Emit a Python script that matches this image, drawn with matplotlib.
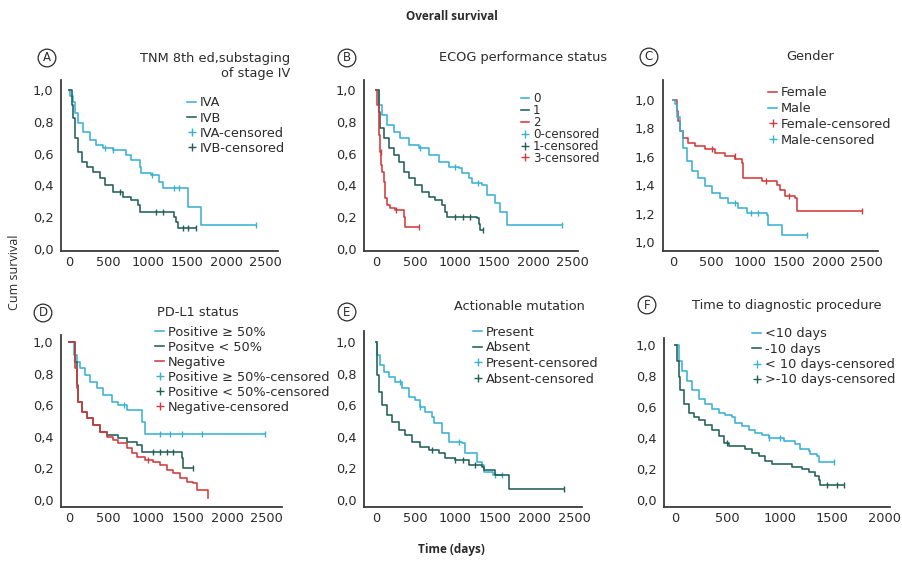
import numpy as np
import matplotlib
matplotlib.use("Agg")
import matplotlib.pyplot as plt
from matplotlib.lines import Line2D

plt.rcParams['font.family'] = ['DejaVu Sans']

CYAN = "#3ab1d3"
DARK = "#225f56"
RED = "#d2393b"
TXT = "#2b2b2b"
FS = 9.3

# ---- data (days, cumulative survival) ----
# A: TNM 8th ed, substaging of stage IV
a_iva_t = [0, 13, 46, 76, 118, 181, 265, 349, 433, 560, 728, 792, 897, 918, 1044, 1149, 1191, 1507, 1676, 2371]
a_iva_s = [1.0, 0.96, 0.926, 0.853, 0.79, 0.738, 0.686, 0.654, 0.637, 0.623, 0.591, 0.56, 0.518, 0.476, 0.465, 0.423, 0.382, 0.266, 0.151, 0.151]
a_iva_cens = [460, 560, 1050, 1330, 1400, 2371]
a_ivb_t = [0, 34, 55, 76, 118, 160, 223, 307, 391, 455, 560, 686, 792, 875, 897, 1339, 1360, 1381, 1613]
a_ivb_s = [1.0, 0.906, 0.822, 0.696, 0.612, 0.549, 0.518, 0.486, 0.445, 0.403, 0.36, 0.329, 0.308, 0.277, 0.235, 0.203, 0.172, 0.13, 0.13]
a_ivb_cens = [650, 1100, 1200, 1450, 1510, 1613]

# B: ECOG performance status
b_0_t = [0, 34, 76, 140, 224, 309, 415, 541, 668, 795, 922, 1049, 1091, 1176, 1218, 1345, 1409, 1514, 1577, 1662, 2360]
b_0_s = [1.0, 0.906, 0.843, 0.78, 0.738, 0.696, 0.654, 0.633, 0.591, 0.549, 0.518, 0.507, 0.476, 0.445, 0.413, 0.403, 0.34, 0.287, 0.235, 0.151, 0.151]
b_0_cens = [560, 1000, 1300, 2360]
b_1_t = [0, 34, 55, 97, 161, 224, 288, 351, 415, 499, 584, 668, 753, 837, 880, 901, 1282, 1303, 1324, 1354]
b_1_s = [1.0, 0.864, 0.759, 0.696, 0.633, 0.591, 0.549, 0.486, 0.445, 0.403, 0.36, 0.329, 0.308, 0.277, 0.235, 0.203, 0.193, 0.16, 0.12, 0.12]
b_1_cens = [1000, 1100, 1200, 1354]
b_2_t = [0, 13, 34, 42, 55, 68, 76, 97, 119, 140, 182, 245, 351, 372, 541]
b_2_s = [1.0, 0.906, 0.822, 0.717, 0.612, 0.528, 0.486, 0.423, 0.319, 0.277, 0.256, 0.245, 0.203, 0.14, 0.14]
b_2_cens = [60, 250, 541]

# C: Gender
c_fem_t = [0, 48, 69, 91, 134, 199, 284, 413, 543, 672, 801, 888, 909, 1146, 1340, 1383, 1447, 1576, 1598, 2438]
c_fem_s = [1.0, 0.924, 0.853, 0.782, 0.735, 0.70, 0.676, 0.652, 0.629, 0.605, 0.582, 0.558, 0.452, 0.428, 0.404, 0.369, 0.321, 0.31, 0.215, 0.215]
c_fem_cens = [500, 800, 1200, 1500, 2438]
c_male_t = [0, 26, 48, 91, 134, 177, 241, 328, 413, 500, 607, 715, 845, 952, 1210, 1232, 1404, 1727]
c_male_s = [1.0, 0.97, 0.877, 0.782, 0.664, 0.57, 0.499, 0.452, 0.392, 0.345, 0.31, 0.274, 0.239, 0.204, 0.191, 0.12, 0.05, 0.05]
c_male_cens = [800, 1000, 1100, 1727]
c_ticklabels = ["1,0", "1,2", "1,4", "1,6", "1,8", "1,0"]

# D: PD-L1 status
d_hi_t = [0, 63, 97, 139, 202, 266, 350, 434, 540, 624, 730, 919, 961, 2479]
d_hi_s = [1.0, 0.918, 0.875, 0.833, 0.79, 0.749, 0.707, 0.665, 0.622, 0.601, 0.57, 0.496, 0.42, 0.42]
d_hi_cens = [700, 1151, 1277, 1425, 1679, 2479]
d_lo_t = [0, 76, 97, 118, 160, 224, 308, 392, 477, 624, 730, 856, 919, 1425, 1446, 1572]
d_lo_s = [1.0, 0.875, 0.728, 0.622, 0.559, 0.517, 0.475, 0.432, 0.411, 0.39, 0.369, 0.348, 0.306, 0.264, 0.2, 0.2]
d_lo_cens = [1067, 1151, 1236, 1320, 1572]
d_neg_t = [0, 76, 97, 118, 160, 224, 308, 392, 477, 561, 624, 730, 793, 856, 961, 1067, 1151, 1236, 1320, 1404, 1489, 1572, 1615, 1762]
d_neg_s = [1.0, 0.833, 0.707, 0.622, 0.559, 0.517, 0.475, 0.432, 0.40, 0.38, 0.359, 0.327, 0.296, 0.274, 0.253, 0.243, 0.222, 0.19, 0.169, 0.137, 0.116, 0.105, 0.063, 0.01]
d_neg_cens = [1000]

# E: Actionable mutation
e_pres_t = [0, 13, 55, 97, 160, 244, 328, 412, 496, 559, 622, 706, 727, 832, 916, 1084, 1126, 1273, 1336, 1357, 1470, 1588]
e_pres_s = [1.0, 0.918, 0.854, 0.812, 0.78, 0.749, 0.707, 0.654, 0.633, 0.59, 0.559, 0.527, 0.485, 0.422, 0.369, 0.359, 0.296, 0.243, 0.222, 0.18, 0.158, 0.158]
e_pres_cens = [300, 560, 1050, 1500, 1588]
e_abs_t = [0, 8, 13, 34, 76, 139, 202, 286, 370, 454, 559, 664, 790, 874, 1000, 1168, 1336, 1357, 1504, 1672, 2365]
e_abs_s = [1.0, 0.897, 0.791, 0.686, 0.601, 0.538, 0.496, 0.443, 0.411, 0.369, 0.337, 0.316, 0.296, 0.264, 0.253, 0.222, 0.211, 0.19, 0.158, 0.07, 0.07]
e_abs_cens = [700, 1000, 1100, 1250, 2365]

# F: Time to diagnostic procedure
f_lt_t = [0, 35, 67, 115, 162, 226, 290, 354, 417, 481, 545, 576, 640, 704, 768, 831, 895, 1039, 1150, 1197, 1278, 1293, 1357, 1373, 1516]
f_lt_s = [1.0, 0.897, 0.833, 0.77, 0.707, 0.654, 0.622, 0.59, 0.559, 0.549, 0.538, 0.496, 0.475, 0.454, 0.432, 0.422, 0.401, 0.38, 0.359, 0.327, 0.316, 0.296, 0.285, 0.243, 0.243]
f_lt_cens = [900, 1000, 1516]
f_ge_t = [0, 19, 35, 51, 83, 131, 178, 226, 290, 354, 417, 465, 513, 672, 736, 800, 863, 927, 1118, 1214, 1278, 1341, 1373, 1389, 1612]
f_ge_s = [1.0, 0.897, 0.791, 0.707, 0.622, 0.559, 0.538, 0.517, 0.485, 0.454, 0.411, 0.369, 0.348, 0.327, 0.306, 0.285, 0.253, 0.232, 0.211, 0.2, 0.179, 0.158, 0.127, 0.095, 0.095]
f_ge_cens = [500, 1450, 1550, 1612]


def fig_px(x, y):
    return x / 903.0, 1 - y / 563.0


def km(ax, t, s, cens, color):
    ax.step(t, s, where='post', color=color, lw=1.15)
    idx = np.searchsorted(t, cens, side='right') - 1
    ax.plot(cens, np.array(s)[idx], ls='none', marker='|', ms=4, mew=1, color=color)


def make_axes(fig, rect_px, xlim, ylim, xticks):
    l, b, r, t = rect_px
    ax = fig.add_axes([l / 903.0, 1 - b / 563.0, (r - l) / 903.0, (b - t) / 563.0])
    ax.set_xlim(*xlim)
    ax.set_ylim(*ylim)
    ax.set_xticks(xticks)
    ax.set_xticklabels([str(v) for v in xticks])
    yt = [0.0, 0.2, 0.4, 0.6, 0.8, 1.0]
    ax.set_yticks(yt)
    ax.set_yticklabels([("%.1f" % v).replace('.', ',') for v in yt])
    for side in ['top', 'right']:
        ax.spines[side].set_visible(False)
    for side in ['left', 'bottom']:
        ax.spines[side].set_color("#3a3a3a")
        ax.spines[side].set_linewidth(1.3)
    ax.tick_params(length=0, labelsize=FS, colors=TXT)
    ax.tick_params(axis='y', pad=5.5)
    ax.tick_params(axis='x', pad=3.5)
    ax.patch.set_alpha(0)
    return ax


def legend(fig, ax, colors, labels, x, y, spacing=0.16, size=FS):
    handles = []
    for c in colors:
        handles.append(Line2D([0], [0], color=c, lw=1.15))
    for c in colors:
        handles.append(Line2D([0], [0], color=c, marker='+', ls='none', ms=6, mew=1))
    fx, fy = fig_px(x, y)
    ax.legend(handles, labels, loc='upper left', bbox_to_anchor=(fx, fy),
              bbox_transform=fig.transFigure, frameon=False, borderpad=0,
              borderaxespad=0, handlelength=0.7, handletextpad=0.3,
              labelspacing=spacing, fontsize=size, labelcolor=TXT)


def letter(fig, ch, x, y):
    fx, fy = fig_px(x, y)
    fig.text(fx, fy, ch, ha='center', va='center', fontsize=8.5, color=TXT,
             bbox=dict(boxstyle='circle,pad=0.2', fc='white', ec=TXT, lw=0.9))


def title(fig, s, x, y, ha='center'):
    fx, fy = fig_px(x, y)
    fig.text(fx, fy, s, ha=ha, va='center', fontsize=FS, color=TXT)


def main():
    fig = plt.figure(figsize=(9.03, 5.63), dpi=100)
    xt = [0, 500, 1000, 1500, 2000, 2500]

    # A
    ax = make_axes(fig, (61, 251, 278, 80), (-101, 2654), (-0.013, 1.063), xt)
    km(ax, a_iva_t, a_iva_s, a_iva_cens, CYAN)
    km(ax, a_ivb_t, a_ivb_s, a_ivb_cens, DARK)
    legend(fig, ax, [CYAN, DARK], ["IVA", "IVB", "IVA-censored", "IVB-censored"], 187, 96.5)
    letter(fig, "A", 47, 58)
    fx, fy = fig_px(290, 66)
    fig.text(fx, fy, "TNM 8th ed,substaging\nof stage IV", ha='right', va='center',
             multialignment='right', fontsize=FS, color=TXT, linespacing=1.15)

    # B
    ax = make_axes(fig, (364, 251, 578, 80), (-152, 2565), (-0.013, 1.063), xt)
    km(ax, b_0_t, b_0_s, b_0_cens, CYAN)
    km(ax, b_1_t, b_1_s, b_1_cens, DARK)
    km(ax, b_2_t, b_2_s, b_2_cens, RED)
    legend(fig, ax, [CYAN, DARK, RED], ["0", "1", "2", "0-censored", "1-censored", "3-censored"],
           521, 92.5, spacing=-0.1, size=8.6)
    letter(fig, "B", 347, 58)
    title(fig, "ECOG performance status", 523, 58)

    # C
    ax = make_axes(fig, (663, 251, 878, 80), (-129, 2645), (-0.063, 1.14), xt)
    km(ax, c_fem_t, c_fem_s, c_fem_cens, RED)
    km(ax, c_male_t, c_male_s, c_male_cens, CYAN)
    ax.set_yticklabels(c_ticklabels)
    legend(fig, ax, [RED, CYAN], ["Female", "Male", "Female-censored", "Male-censored"], 768, 86.5,
           spacing=0.21)
    letter(fig, "C", 649, 57)
    title(fig, "Gender", 810, 57)

    # D
    ax = make_axes(fig, (61, 507, 282, 335), (-101, 2694), (-0.044, 1.044), xt)
    km(ax, d_hi_t, d_hi_s, d_hi_cens, CYAN)
    km(ax, d_lo_t, d_lo_s, d_lo_cens, DARK)
    km(ax, d_neg_t, d_neg_s, d_neg_cens, RED)
    legend(fig, ax, [CYAN, DARK, RED],
           ["Positive \u2265 50%", "Positve < 50%", "Negative", "Positive \u2265 50%-censored",
            "Positive < 50%-censored", "Negative-censored"], 155, 325.5, spacing=0.16)
    letter(fig, "D", 43, 313)
    title(fig, "PD-L1 status", 157, 313, ha='left')

    # E
    ax = make_axes(fig, (364, 507, 582, 331), (-151, 2596), (-0.044, 1.07), xt)
    km(ax, e_pres_t, e_pres_s, e_pres_cens, CYAN)
    km(ax, e_abs_t, e_abs_s, e_abs_cens, DARK)
    legend(fig, ax, [CYAN, DARK], ["Present", "Absent", "Present-censored", "Absent-censored"], 473, 325.5,
           spacing=0.21)
    letter(fig, "E", 347, 312)
    title(fig, "Actionable mutation", 519, 306)

    # F
    ax = make_axes(fig, (664, 507, 890, 338), (-105, 2055), (-0.044, 1.044), [0, 500, 1000, 1500, 2000])
    km(ax, f_lt_t, f_lt_s, f_lt_cens, CYAN)
    km(ax, f_ge_t, f_ge_s, f_ge_cens, DARK)
    legend(fig, ax, [CYAN, DARK], ["<10 days", "-10 days", "< 10 days-censored", ">-10 days-censored"],
           752, 327.5, spacing=0.18)
    letter(fig, "F", 647, 305)
    title(fig, "Time to diagnostic procedure", 787, 305)

    # figure-level labels
    fig.text(0.5, 1 - 16 / 563, "Overall survival", ha='center', va='center', family='Open Sans',
             fontsize=8.5, fontweight='bold', color=TXT)
    fig.text(0.5, 1 - 549 / 563, "Time (days)", ha='center', va='center', family='Open Sans',
             fontsize=8.5, fontweight='bold', color=TXT)
    fig.text(15 / 903, 1 - 272 / 563, "Cum survival", ha='center', va='center', family='Open Sans',
             rotation=90, fontsize=9, color=TXT)

    fig.savefig("out.png", dpi=100, facecolor='white')


if __name__ == "__main__":
    main()
